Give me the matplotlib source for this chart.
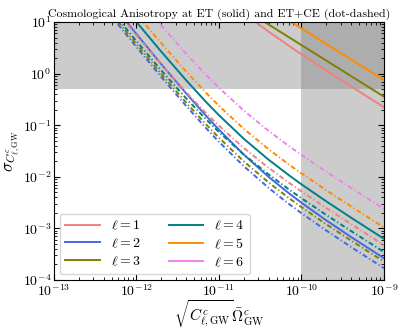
import numpy as np
import matplotlib
matplotlib.use("Agg")
import matplotlib.pyplot as plt

plt.rcParams['font.family'] = 'serif'
plt.rcParams['font.serif'] = ['cmr10', 'DejaVu Serif']
plt.rcParams['mathtext.fontset'] = 'cm'
plt.rcParams['axes.formatter.use_mathtext'] = True

# x grid: sqrt(C_l) * Omega_GW
x_ce = [4e-13, 6e-13, 1e-12, 2e-12, 4e-12, 7e-12, 1e-11, 2e-11, 4e-11, 7e-11, 1e-10, 2e-10, 4e-10, 1e-9]

# ET (solid), even multipoles
et_l2 = [35.5, 15.9, 5.84, 1.52, 0.414, 0.151, 0.0816, 0.0269, 9.94e-3, 4.83e-3, 3.14e-3, 1.43e-3, 6.8e-4, 2.64e-4]
et_l4 = [60.3, 27.1, 10.0, 2.66, 0.743, 0.280, 0.156, 0.0545, 0.0214, 0.0108, 7.14e-3, 3.34e-3, 1.61e-3, 6.29e-4]

# ET (solid), odd multipoles
x_et_odd = [2e-11, 4e-11, 7e-11, 1e-10, 2e-10, 4e-10, 1e-9]
et_l1 = [14.85, 6.49, 3.48, 2.37, 1.15, 0.564, 0.2235]
et_l3 = [17.85, 8.93, 5.10, 3.57, 1.785, 0.893, 0.357]
et_l5 = [37.5, 18.75, 10.7, 7.5, 3.75, 1.875, 0.75]

# ET+CE (dot-dashed)
ce_l1 = [32.8, 14.8, 5.52, 1.50, 0.434, 0.170, 0.0975, 0.0361, 0.0149, 7.74e-3, 5.2e-3, 2.48e-3, 1.21e-3, 4.75e-4]
ce_l2 = [19.8, 8.89, 3.27, 0.858, 0.236, 0.087, 0.0476, 0.01605, 6.09e-3, 3.0e-3, 1.97e-3, 9.08e-4, 4.34e-4, 1.69e-4]
ce_l3 = [22.3, 10.04, 3.70, 0.98, 0.273, 0.103, 0.0571, 0.0199, 7.75e-3, 3.90e-3, 2.58e-3, 1.20e-3, 5.8e-4, 2.27e-4]
ce_l4 = [25.3, 11.4, 4.25, 1.15, 0.330, 0.129, 0.0735, 0.0270, 0.0111, 5.73e-3, 3.84e-3, 1.82e-3, 8.87e-4, 3.49e-4]
ce_l5 = [86.3, 38.9, 14.4, 3.87, 1.095, 0.421, 0.237, 0.085, 0.0341, 0.01745, 0.01164, 5.49e-3, 2.66e-3, 1.04e-3]
ce_l6 = [189.7, 85.6, 31.8, 8.53, 2.43, 0.937, 0.530, 0.1915, 0.0774, 0.0397, 0.0265, 0.01254, 6.08e-3, 2.39e-3]

colors = ['lightcoral', 'royalblue', 'olive', 'teal', 'darkorange', 'violet']

fig = plt.figure(figsize=(4.05, 3.35), dpi=100)
ax = fig.add_axes([0.1333, 0.1642, 0.8148, 0.7701])

ax.axhspan(0.5, 10, color='grey', alpha=0.4, lw=0, zorder=0)
ax.axvspan(1e-10, 1e-9, color='grey', alpha=0.4, lw=0, zorder=0)

lw = 1.4
ax.plot(x_et_odd, et_l1, color=colors[0], lw=lw, label=r'$\ell=1$')
ax.plot(x_ce, et_l2, color=colors[1], lw=lw, label=r'$\ell=2$')
ax.plot(x_et_odd, et_l3, color=colors[2], lw=lw, label=r'$\ell=3$')
ax.plot(x_ce, et_l4, color=colors[3], lw=lw, label=r'$\ell=4$')
ax.plot(x_et_odd, et_l5, color=colors[4], lw=lw, label=r'$\ell=5$')
ax.plot([], [], color=colors[5], lw=lw, label=r'$\ell=6$')

# dot-dashed, shorter dashes than the default
dd = (0, (2.6, 1.3, 0.6, 1.3))
for c, y in zip(colors, [ce_l1, ce_l2, ce_l3, ce_l4, ce_l5, ce_l6]):
    ax.plot(x_ce, y, color=c, lw=lw, ls=dd)

ax.set_xscale('log')
ax.set_yscale('log')
ax.set_xlim(1e-13, 1e-9)
ax.set_ylim(1e-4, 1e1)
ax.tick_params(which='both', direction='in', top=True, right=True, labelsize=10)
ax.tick_params(which='major', length=4, pad=2)
ax.tick_params(which='minor', length=2)

ax.set_title('Cosmological Anisotropy at ET (solid) and ET+CE (dot-dashed)', fontsize=8.6, pad=4)
ax.set_xlabel(r'$\sqrt{C^c_{\ell,\rm GW}}\bar{\Omega}^c_{\rm GW}$', fontsize=11, labelpad=0)
ax.set_ylabel(r'$\sigma_{C^c_{\ell,\rm GW}}$', fontsize=12, labelpad=0)

ax.legend(loc='lower left', ncol=2, fontsize=10, handlelength=2.5, columnspacing=2.0,
          labelspacing=0.3, borderaxespad=0.4)

fig.savefig('out.png', dpi=100)
